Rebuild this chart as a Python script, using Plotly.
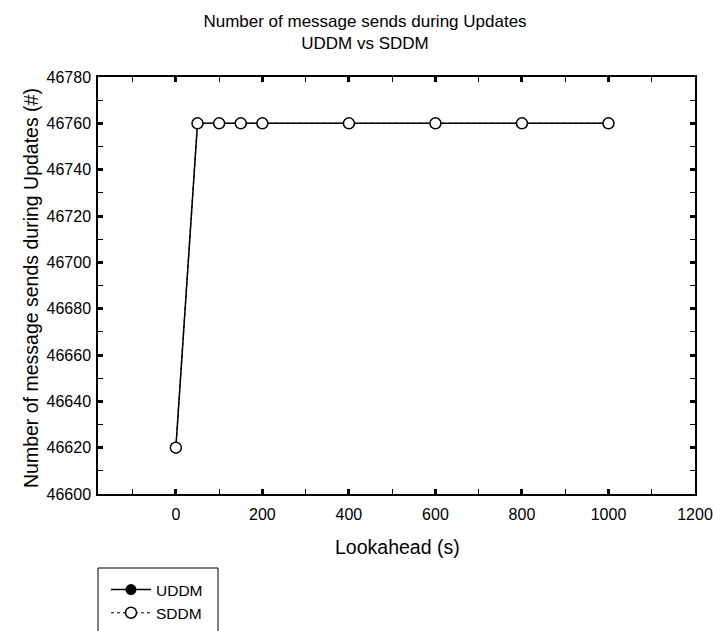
import plotly.graph_objects as go

lookahead = [0, 50, 100, 150, 200, 400, 600, 800, 1000]
uddm = [46620, 46760, 46760, 46760, 46760, 46760, 46760, 46760, 46760]
sddm = [46620, 46760, 46760, 46760, 46760, 46760, 46760, 46760, 46760]

FONT = "Liberation Sans, Arial, sans-serif"

W, H = 713, 631
L, R, T, B = 98, 695, 77, 494
PW, PH = R - L, B - T


def px(xp):
    return (xp - L) / PW


def py(yp):
    return (B - yp) / PH


fig = go.Figure()
fig.add_trace(go.Scatter(
    x=lookahead, y=uddm, name="UDDM", mode="lines+markers",
    line=dict(color="black", width=1.5),
    marker=dict(symbol="circle", size=11, color="black"),
))
fig.add_trace(go.Scatter(
    x=lookahead, y=sddm, name="SDDM", mode="lines+markers",
    line=dict(color="black", width=1.2, dash="dot"),
    marker=dict(symbol="circle", size=11, color="white",
                line=dict(color="black", width=1.5)),
))

axis_common = dict(
    showgrid=False, zeroline=False, showline=True, linecolor="black",
    linewidth=1.5, mirror="ticks", ticks="inside", ticklen=5, tickwidth=3,
    tickcolor="black", tickfont=dict(family=FONT, size=16, color="black"),
    automargin=False, ticklabeloverflow="allow",
)

fig.update_xaxes(
    range=[-180, 1200], tickmode="array",
    tickvals=[0, 200, 400, 600, 800, 1000, 1200],
    minor=dict(ticks="inside", ticklen=5, tickwidth=1, tickcolor="black",
               tickvals=[-100, 100, 300, 500, 700, 900, 1100]),
    ticklabelstandoff=5,
    **axis_common,
)
fig.update_yaxes(
    range=[46600, 46780], tickmode="linear", tick0=46600, dtick=20,
    tickformat="d",
    minor=dict(ticks="inside", ticklen=5, tickwidth=1, tickcolor="black", dtick=10),
    ticklabelstandoff=2,
    **axis_common,
)

fig.update_layout(
    width=W, height=H,
    margin=dict(l=L, r=W - R, t=T, b=H - B, autoexpand=False),
    paper_bgcolor="white", plot_bgcolor="white",
    font=dict(family=FONT, color="black"),
    title=dict(text="Number of message sends during Updates<br>UDDM vs SDDM",
               x=365 / W, xanchor="center",
               y=1 - 27 / H, yanchor="middle", yref="container",
               font=dict(family=FONT, size=17, color="black")),
    showlegend=True,
    legend=dict(x=px(106), xanchor="left", y=py(573), yanchor="top",
                bgcolor="rgba(0,0,0,0)", borderwidth=0,
                font=dict(family=FONT, size=15.5, color="black"),
                tracegroupgap=0, itemwidth=40),
    annotations=[
        dict(text="Lookahead (s)", x=px(397), xref="paper",
             y=py(547), yref="paper", yanchor="middle", showarrow=False,
             font=dict(family=FONT, size=19.5, color="black")),
        dict(text="Number of message sends during Updates (#)",
             x=px(18), xref="paper", y=py(288), yref="paper",
             textangle=-90, showarrow=False,
             font=dict(family=FONT, size=19.5, color="black")),
    ],
    shapes=[dict(type="rect", xref="paper", yref="paper",
                 x0=px(98), x1=px(218), y0=py(568), y1=py(645),
                 line=dict(color="black", width=1))],
)

fig.write_html("out.html",
               config={"displayModeBar": False},
               post_script="document.body.style.margin='0';"
                           "document.body.style.overflow='hidden';")
